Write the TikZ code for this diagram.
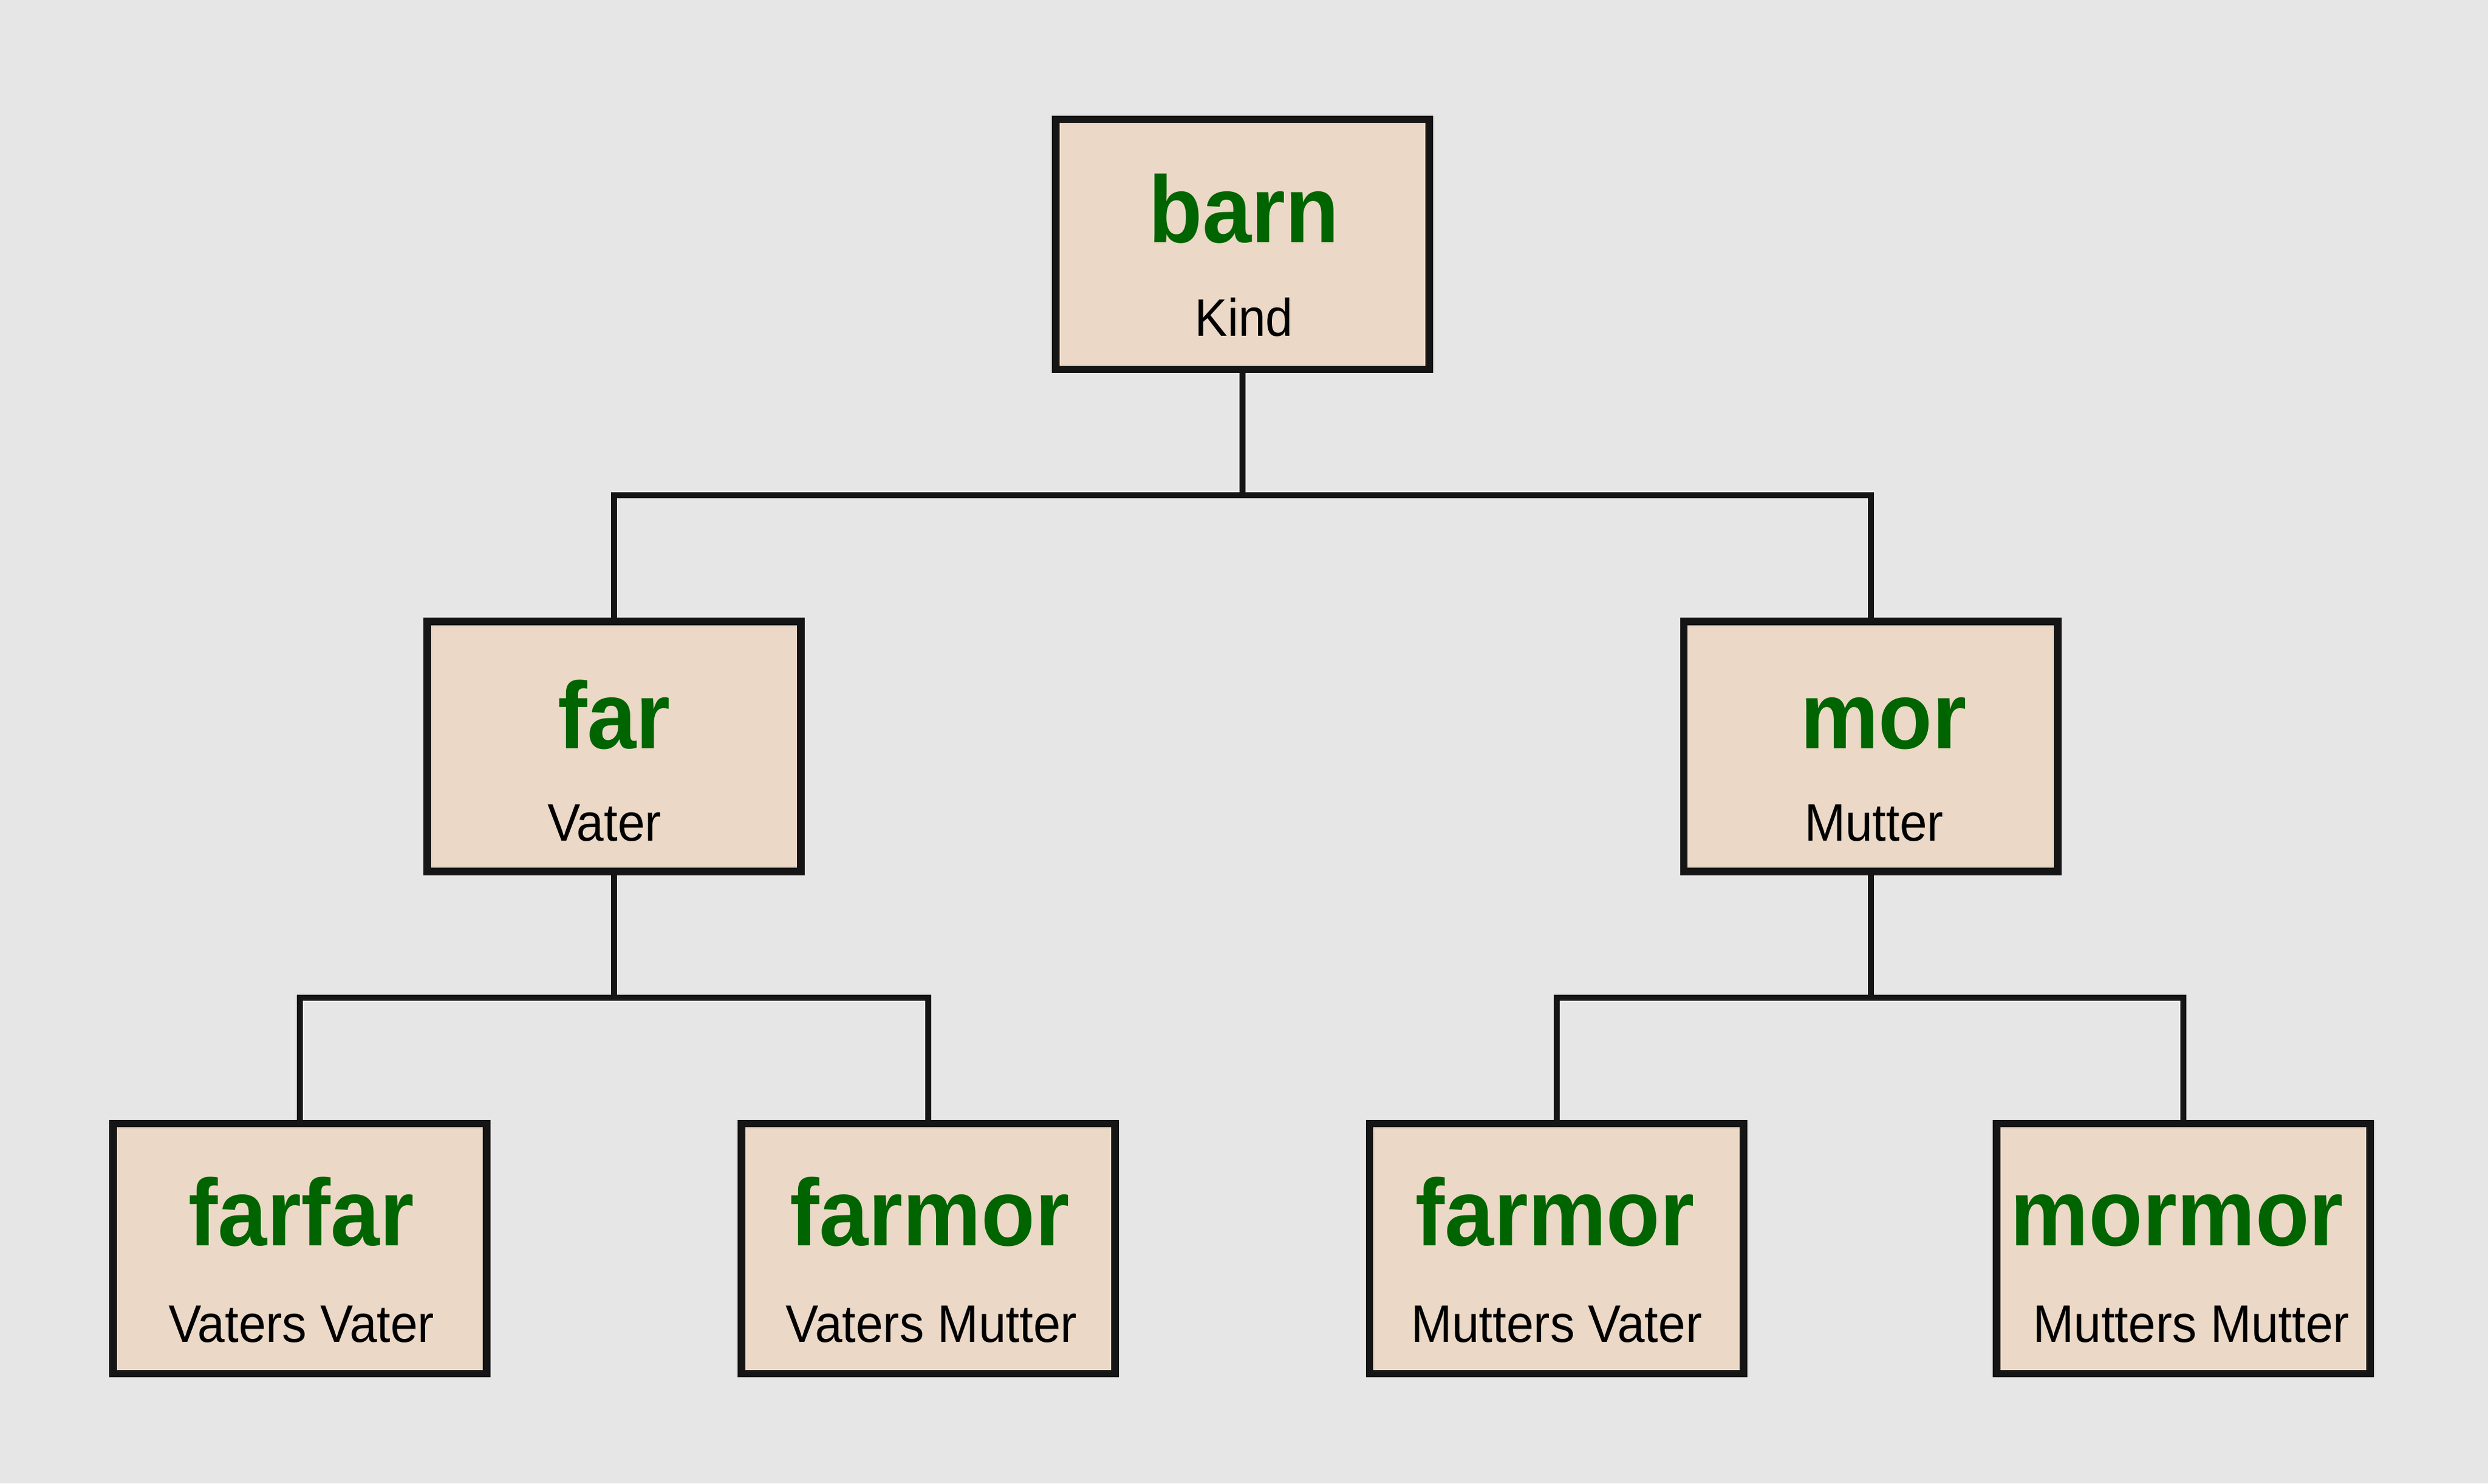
\documentclass[tikz,border=0pt]{standalone}
\usepackage{fontspec}
\setmainfont{Liberation Sans}[FakeStretch=0.93]
\definecolor{bggray}{HTML}{E6E6E6}
\definecolor{boxfill}{HTML}{EBD8C6}
\definecolor{titlegreen}{HTML}{006400}
\definecolor{lineblack}{HTML}{151515}
\tikzset{
  person/.style={draw=lineblack, line width=2.5pt, fill=boxfill, minimum width=124.6pt, minimum height=83.3pt, inner sep=0pt},
  ttl/.style={anchor=base, inner sep=0pt, text=titlegreen, font=\bfseries\fontsize{31.6}{36}\selectfont},
  sub/.style={anchor=base, inner sep=0pt, text=black, font=\fontsize{17.6}{20}\selectfont},
  conn/.style={draw=lineblack, line width=2pt}
}
\begin{document}
\begin{tikzpicture}[x=0.529pt, y=-0.529pt]
\fill[bggray] (0,0) rectangle (1568,935);
\useasboundingbox (0,0) rectangle (1568,935);
% boxes
\node[person] (barn) at (783,154) {};
\node[person] (far) at (387,470.5) {};
\node[person] (mor) at (1179,470.5) {};
\node[person] (ff) at (189,787) {};
\node[person] (fm) at (585,787) {};
\node[person] (mf) at (981,787) {};
\node[person] (mm) at (1376,787) {};
% texts
\node[ttl] (barnT) at (784,153) {barn};
\node[sub] (barnS) at (784,212) {Kind};
\node[ttl] (farT) at (387,472) {far};
\node[sub] (farS) at (381,530) {Vater};
\node[ttl] (morT) at (1187,472) {mor};
\node[sub] (morS) at (1181,530) {Mutter};
\node[ttl] (ffT) at (190,785) {farfar};
\node[sub] (ffS) at (190,846) {Vaters Vater};
\node[ttl] (fmT) at (586,785) {farmor};
\node[sub] (fmS) at (587,846) {Vaters Mutter};
\node[ttl] (mfT) at (980,785) {farmor};
\node[sub] (mfS) at (981,846) {Mutters Vater};
\node[ttl] (mmT) at (1372,785) {mormor};
\node[sub] (mmS) at (1381,846) {Mutters Mutter};
% junctions
\coordinate (j1) at (783,312);
\coordinate (j2) at (387,629);
\coordinate (j3) at (1179,629);
% connectors
\path[conn] (barn.south) -- (j1);
\path[conn] (far.north) |- (j1) -| (mor.north);
\path[conn] (far.south) -- (j2);
\path[conn] (ff.north) |- (j2) -| (fm.north);
\path[conn] (mor.south) -- (j3);
\path[conn] (mf.north) |- (j3) -| (mm.north);
\end{tikzpicture}
\end{document}
